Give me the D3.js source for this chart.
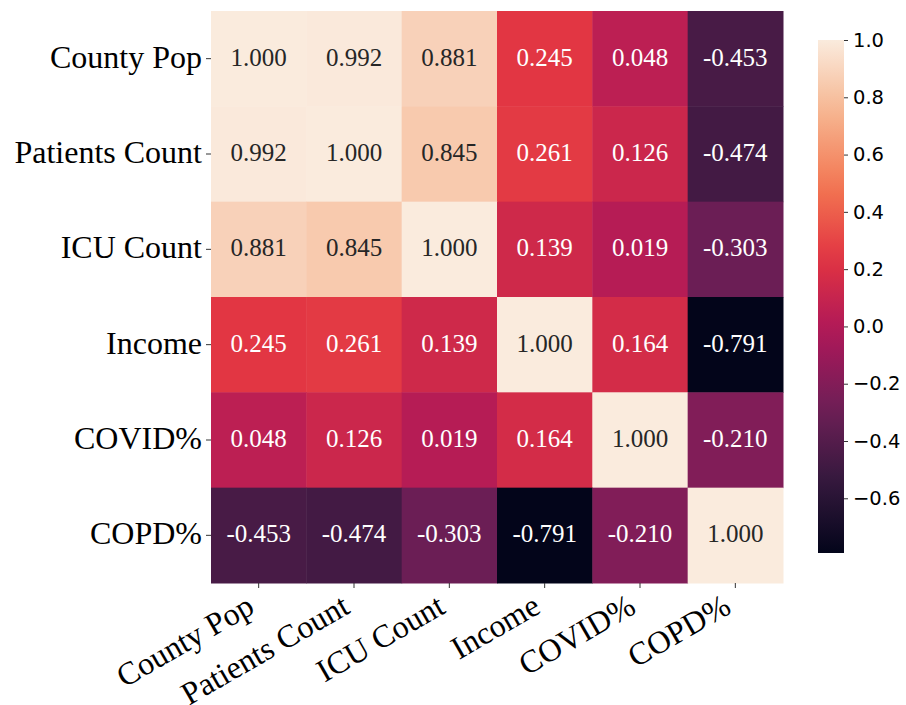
<!DOCTYPE html>
<html>
<head>
    <meta charset="utf-8">
    <title>Correlation Heatmap</title>
    <script src="https://d3js.org/d3.v7.min.js"></script>
    <style>
        body { margin: 0; background: #fff; }
    </style>
</head>
<body>
    <div id="chart"></div>

    <script>
        var labels = ["County Pop", "Patients Count", "ICU Count", "Income", "COVID%", "COPD%"];

        var countyPop     = [1.000, 0.992, 0.881, 0.245, 0.048, -0.453];
        var patientsCount = [0.992, 1.000, 0.845, 0.261, 0.126, -0.474];
        var icuCount      = [0.881, 0.845, 1.000, 0.139, 0.019, -0.303];
        var income        = [0.245, 0.261, 0.139, 1.000, 0.164, -0.791];
        var covidPct      = [0.048, 0.126, 0.019, 0.164, 1.000, -0.210];
        var copdPct       = [-0.453, -0.474, -0.303, -0.791, -0.210, 1.000];

        var colorbarTicks = [1.0, 0.8, 0.6, 0.4, 0.2, 0.0, -0.2, -0.4, -0.6];

        var rows = [countyPop, patientsCount, icuCount, income, covidPct, copdPct];

        // seaborn "rocket" colormap, sampled
        var rocketStops = ["#03051a", "#35193e", "#701f57", "#ad1759", "#e13342", "#f37651", "#f6b48f", "#faebdd"];
        var rocket = d3.scaleLinear()
            .domain(d3.range(rocketStops.length).map(function(i) { return i / (rocketStops.length - 1); }))
            .range(rocketStops)
            .interpolate(d3.interpolateRgb);

        var cells = [];
        rows.forEach(function(r, i) {
            r.forEach(function(v, j) {
                cells.push({row: labels[i], col: labels[j], value: v});
            });
        });

        var vmin = d3.min(cells, function(d) { return d.value; });
        var vmax = d3.max(cells, function(d) { return d.value; });
        var norm = d3.scaleLinear().domain([vmin, vmax]).range([0, 1]);
        function color(v) { return rocket(norm(v)); }

        function luminance(c) {
            var rgb = d3.rgb(c);
            var ch = [rgb.r, rgb.g, rgb.b].map(function(x) {
                x = x / 255;
                return x <= 0.03928 ? x / 12.92 : Math.pow((x + 0.055) / 1.055, 2.4);
            });
            return 0.2126 * ch[0] + 0.7152 * ch[1] + 0.0722 * ch[2];
        }

        var width = 906, height = 705;
        var mapLeft = 211, mapTop = 11, mapSize = 572;

        var svg = d3.select("#chart").append("svg")
            .attr("width", width).attr("height", height);

        var x = d3.scaleBand().domain(labels).range([mapLeft, mapLeft + mapSize]);
        var y = d3.scaleBand().domain(labels).range([mapTop, mapTop + mapSize]);

        svg.selectAll("rect.cell")
            .data(cells)
            .enter().append("rect")
            .attr("class", "cell")
            .attr("x", function(d) { return x(d.col); })
            .attr("y", function(d) { return y(d.row); })
            .attr("width", x.bandwidth() + 0.5)
            .attr("height", y.bandwidth() + 0.5)
            .attr("fill", function(d) { return color(d.value); });

        svg.selectAll("text.annot")
            .data(cells)
            .enter().append("text")
            .attr("class", "annot")
            .attr("x", function(d) { return x(d.col) + x.bandwidth() / 2; })
            .attr("y", function(d) { return y(d.row) + y.bandwidth() / 2 - 1.5; })
            .attr("text-anchor", "middle")
            .attr("dominant-baseline", "central")
            .style("font-family", "'Liberation Serif', 'Times New Roman', serif")
            .style("font-size", "25px")
            .attr("fill", function(d) { return luminance(color(d.value)) > 0.408 ? "#262626" : "#ffffff"; })
            .text(function(d) { return d.value.toFixed(3); });

        // y axis
        var yAxis = svg.append("g")
            .attr("transform", "translate(" + mapLeft + ",0)")
            .call(d3.axisLeft(y).tickSize(5).tickPadding(4));
        yAxis.select(".domain").remove();
        yAxis.selectAll(".tick line").attr("stroke", "#333");
        yAxis.selectAll(".tick text")
            .style("font-family", "'Liberation Serif', 'Times New Roman', serif")
            .style("font-size", "32px")
            .attr("dy", "0.28em")
            .attr("fill", "#000");

        // x axis, labels rotated 30 degrees
        var xAxis = svg.append("g")
            .attr("transform", "translate(0," + (mapTop + mapSize) + ")")
            .call(d3.axisBottom(x).tickSize(5).tickPadding(4));
        xAxis.select(".domain").remove();
        xAxis.selectAll(".tick line").attr("stroke", "#333");
        xAxis.selectAll(".tick text")
            .style("font-family", "'Liberation Serif', 'Times New Roman', serif")
            .style("font-size", "32px")
            .attr("fill", "#000")
            .attr("text-anchor", "end")
            .attr("dy", "0.72em")
            .attr("transform", "translate(-14,9) rotate(-30)")
            .attr("x", 0).attr("y", 0);

        // colorbar
        var cbX = 818, cbW = 26, cbTop = 40, cbBottom = 553;
        var cbScale = d3.scaleLinear().domain([vmin, vmax]).range([cbBottom, cbTop]);

        var grad = svg.append("defs").append("linearGradient")
            .attr("id", "cbgrad")
            .attr("x1", 0).attr("y1", 1).attr("x2", 0).attr("y2", 0);
        d3.range(0, 1.0001, 0.05).forEach(function(t) {
            grad.append("stop")
                .attr("offset", t)
                .attr("stop-color", rocket(t));
        });

        svg.append("rect")
            .attr("x", cbX).attr("y", cbTop)
            .attr("width", cbW).attr("height", cbBottom - cbTop)
            .attr("fill", "url(#cbgrad)");

        var cbAxis = svg.append("g")
            .attr("transform", "translate(" + (cbX + cbW) + ",0)")
            .call(d3.axisRight(cbScale).tickValues(colorbarTicks).tickSize(4).tickPadding(5)
                .tickFormat(function(d) { return d3.format(".1f")(d).replace("-", "\u2212"); }));
        cbAxis.select(".domain").remove();
        cbAxis.selectAll(".tick line").attr("stroke", "#333");
        cbAxis.selectAll(".tick text")
            .style("font-family", "'DejaVu Sans', sans-serif")
            .style("font-size", "19.5px")
            .attr("fill", "#000");
    </script>
</body>
</html>
